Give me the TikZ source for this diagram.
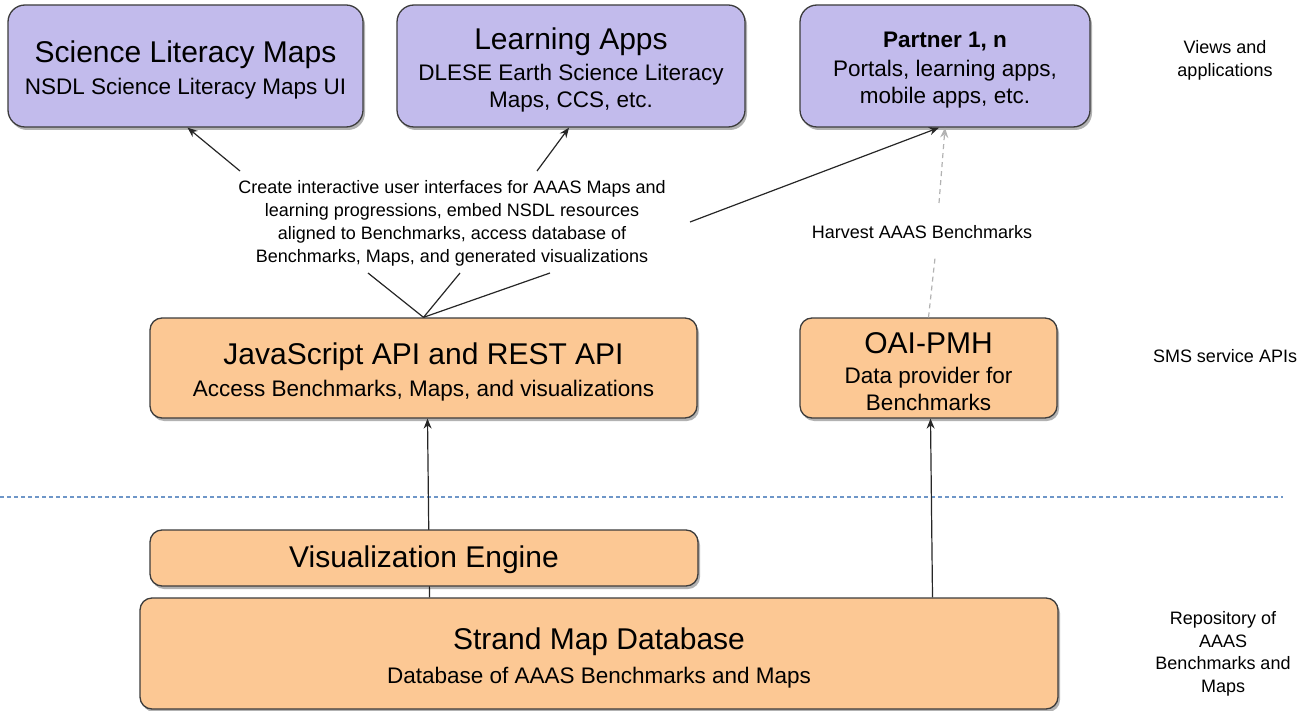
\documentclass[tikz,border=0pt]{standalone}
\usepackage{fontspec}
\setmainfont{Liberation Sans}
\usetikzlibrary{shadows,arrows.meta,calc}
\definecolor{boxpurple}{RGB}{194,187,236}
\definecolor{boxorange}{RGB}{252,200,148}
\definecolor{edgegray}{RGB}{60,60,60}
\definecolor{sepblue}{RGB}{110,150,200}
\newcommand{\ttlfont}{\fontsize{30}{30}\selectfont}
\newcommand{\subfont}{\fontsize{22.5}{27}\selectfont}
\newcommand{\smallfont}{\fontsize{18}{23}\selectfont}
\newcommand{\mystrut}[1]{\rule{0pt}{#1}}
\begin{document}
\begin{tikzpicture}[x=1pt,y=-1pt,
  box/.style={draw=edgegray, line width=1.3pt, align=center, inner sep=0pt, font=\subfont,
    drop shadow={shadow xshift=2pt, shadow yshift=-3pt, fill=black, opacity=0.3}},
  appbox/.style={box, fill=boxpurple, rounded corners=17pt},
  apibox/.style={box, fill=boxorange, rounded corners=12pt},
  conn/.style={draw=black!85, line width=1.2pt},
  arr/.style={conn, -{Stealth[length=10pt,width=8pt]}},
  harvestline/.style={draw=gray!60, line width=1.2pt, dash pattern=on 5pt off 4pt},
  harvestarr/.style={harvestline, -{Stealth[length=10pt,width=8pt]}},
  sepline/.style={draw=sepblue, line width=1.4pt, dash pattern=on 4pt off 3pt},
  note/.style={font=\smallfont, align=center, inner sep=0pt}]
\useasboundingbox (0,0) rectangle (1300,711);

% top boxes
\node[appbox, minimum width=355pt, minimum height=122pt] (b1) at (185.5,66)
  {\mystrut{29pt}{\ttlfont Science Literacy Maps}\\[5pt]NSDL Science Literacy Maps UI};
\node[appbox, minimum width=348pt, minimum height=122pt] (b2) at (571,66)
  {\mystrut{30pt}{\ttlfont Learning Apps}\\[4pt]DLESE Earth Science Literacy\\Maps, CCS, etc.};
\node[appbox, minimum width=290pt, minimum height=122pt] (b3) at (945,66)
  {\mystrut{24pt}{\fontsize{22.5}{22.5}\selectfont\bfseries Partner 1, n}\\[2pt]Portals, learning apps,\\mobile apps, etc.};

% API boxes
\node[apibox, minimum width=547pt, minimum height=100pt] (js) at (423.5,368)
  {\mystrut{29pt}{\ttlfont JavaScript API and REST API}\\[5pt]Access Benchmarks, Maps, and visualizations};
\node[apibox, minimum width=257pt, minimum height=100pt] (oai) at (928.5,368)
  {\mystrut{28pt}{\ttlfont OAI-PMH}\\[3pt]Data provider for\\Benchmarks};

% database
\node[apibox, minimum width=918pt, minimum height=111pt] (strand) at (599,653.5)
  {\mystrut{31pt}{\ttlfont Strand Map Database}\\[7pt]Database of AAAS Benchmarks and Maps};

% description labels
\node[note] (desc) at (452,223)
  {Create interactive user interfaces for AAAS Maps and\\learning progressions, embed NSDL resources\\aligned to Benchmarks, access database of\\Benchmarks, Maps, and generated visualizations};
\node[note] (harvest) at (922,232) {Harvest AAAS Benchmarks};

% side labels
\node[note] (lviews) at (1225,60) {Views and\\applications};
\node[note] (lsms) at (1225,356) {SMS service APIs};
\node[note, font=\fontsize{18}{22.5}\selectfont] (lrepo) at (1223,654) {Repository of\\AAAS\\Benchmarks and\\Maps};

% separator
\coordinate (sepL) at (0,497);
\coordinate (sepR) at (1283,497);
\draw[sepline] (sepL) -- (sepR);

% connector end points around the description
\coordinate (d1) at (240,171);
\coordinate (d2) at (537,171);
\coordinate (d3) at (690,222);
\coordinate (u1) at (368,273);
\coordinate (u2) at (460,273);
\coordinate (u3) at (550,273);
\coordinate (h1) at (935,258);
\coordinate (h2) at (939,203);

\draw[arr] (d1) -- ([xshift=2pt]b1.south);
\draw[arr] (d2) -- ([xshift=-2pt]b2.south);
\draw[arr] (d3) -- ([xshift=-6pt]b3.south);
\draw[conn] (js.north) -- (u1);
\draw[conn] (js.north) -- (u2);
\draw[conn] (js.north) -- (u3);

\draw[harvestline] (oai.north) -- (h1);
\draw[harvestarr] (h2) -- (b3.south);

\draw[arr] ($(strand.north -| js.south)+(6,0)$) -- ([xshift=4pt]js.south);
\draw[arr] ($(strand.north -| oai.south)+(4,0)$) -- ([xshift=2pt]oai.south);

% visualization engine (on top of the arrow)
\node[apibox, minimum width=548pt, minimum height=56pt] (viz) at (424,558)
  {\mystrut{26pt}\ttlfont Visualization Engine};
\end{tikzpicture}
\end{document}
